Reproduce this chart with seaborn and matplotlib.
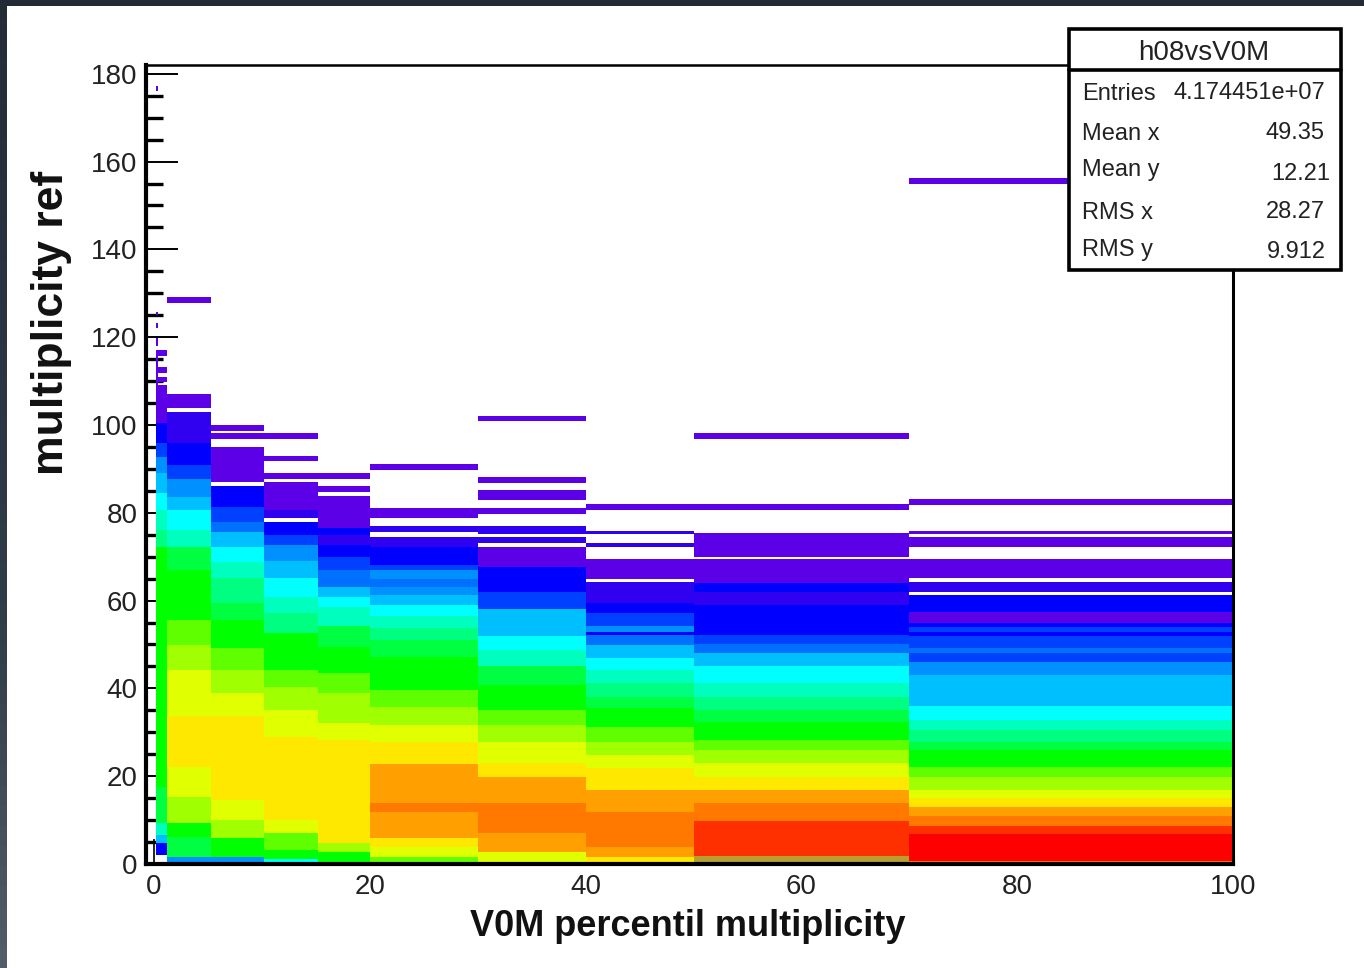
import pandas as pd
import matplotlib
matplotlib.use("Agg")
import matplotlib.pyplot as plt
from matplotlib.colors import ListedColormap
from matplotlib.lines import Line2D
from matplotlib.patches import Rectangle
from matplotlib.ticker import MultipleLocator
import seaborn as sns

# DATA

x_edges = [0.14, 0.33, 1.2, 5.25, 10.2, 15.2, 20, 30, 40, 50, 70, 100]

# each column: y edges of its bands and the colour level of each band (0 = empty)
col0_edges = [0, 2.1, 4.7, 6.6, 9.3, 17.6, 72.3, 76.1, 80.7, 84.5, 89, 92.8, 95.9, 100.4, 117.1, 117.9,
              119.8, 122.1, 123.3, 125.1, 125.8, 176, 177.3]
col0_levels = [0, 3, 7, 9, 11, 12, 10, 9, 8, 7, 6, 4, 3, 1, 0, 1, 0, 1, 0, 1, 0, 1]

col1_edges = [0, 2.1, 4.7, 6.6, 9.3, 17.6, 72.3, 76.1, 80.7, 84.5, 89, 92.8, 95.9, 100.4, 109.1, 109.9,
              111, 111.8, 113.2, 115.7, 117.1]
col1_levels = [0, 3, 7, 9, 11, 12, 10, 9, 8, 7, 6, 4, 3, 1, 0, 1, 0, 1, 0, 1]

col2_edges = [0, 1.7, 6.2, 9.3, 15.3, 22.2, 33.6, 44.2, 49.9, 55.6, 67, 72.3, 76.1, 80.7, 83.7, 87.7,
              90.9, 95.9, 102.9, 103.8, 107.1, 127.8, 129.1]
col2_levels = [6, 11, 12, 14, 15, 16, 15, 14, 13, 12, 11, 9, 8, 7, 6, 4, 3, 2, 0, 1, 0, 1]

col3_edges = [0, 1.7, 5.9, 10, 14.6, 33.6, 39, 44.2, 49.2, 55.6, 59.4, 65.1, 68.8, 72.1, 75.6, 77.8,
              81.4, 86.1, 86.9, 95.1, 96.8, 98.1, 98.7, 100]
col3_levels = [6, 12, 14, 15, 16, 15, 14, 13, 12, 11, 10, 9, 8, 7, 5, 4, 3, 0, 1, 0, 1, 0, 1]

col4_edges = [0, 1.1, 3.2, 7, 10, 29, 35.1, 40.4, 44.2, 52.6, 57.1, 60.9, 65.2, 69, 72.7, 75, 77.9,
              78.8, 80.7, 87, 87.7, 89, 91.7, 93, 96.8, 98.1]
col4_levels = [8, 12, 13, 15, 16, 15, 14, 13, 12, 10, 9, 8, 7, 6, 4, 3, 0, 2, 1, 0, 1, 0, 1, 0, 1]

col5_edges = [0, 2.8, 4.8, 28.3, 32.1, 39, 43.5, 49.5, 54.1, 58.6, 60.9, 63.2, 67, 70, 72.7, 75, 76.5,
              83.9, 84.7, 86.1, 87.7, 89]
col5_levels = [12, 14, 16, 15, 14, 13, 12, 11, 9, 8, 7, 5, 4, 3, 2, 3, 1, 0, 1, 0, 1]

col6_edges = [0, 1.7, 3.9, 5.9, 11.8, 13.8, 22.7, 27.9, 31.7, 35.8, 39.6, 47.2, 51, 53.8, 56.5, 59,
              61.3, 63, 64.9, 67, 68.1, 72.2, 74.4, 75.6, 77, 78.8, 81, 89.8, 91.1]
col6_levels = [13, 15, 16, 17, 18, 17, 16, 15, 14, 13, 12, 11, 10, 9, 8, 7, 6, 5, 6, 4, 3, 2, 0, 2, 0,
               1, 0, 1]

col7_edges = [0, 2.8, 7, 13.8, 19.9, 22.9, 27.9, 31.7, 35.1, 40.8, 45, 48.8, 52, 58, 62, 67.7, 72.2,
              73.1, 74.4, 75.2, 77, 79.7, 81, 82.8, 85.1, 86.7, 88.1, 100.8, 102.1]
col7_levels = [15, 17, 18, 17, 16, 15, 14, 13, 12, 11, 9, 8, 7, 4, 3, 1, 0, 2, 0, 2, 0, 1, 0, 1, 0, 1,
               0, 1]

col8_edges = [0, 1.7, 3.9, 11.9, 16.9, 21.8, 24.8, 27.9, 31.3, 35.5, 38.1, 41.2, 44.2, 46.9, 49.9,
              52.2, 52.9, 54.1, 57.1, 59.4, 64.2, 64.9, 69.4, 72.1, 73.2, 75.2, 75.9, 80.7, 82]
col8_levels = [16, 17, 18, 17, 16, 15, 14, 13, 12, 11, 10, 9, 8, 7, 5, 3, 6, 4, 3, 2, 0, 1, 0, 2, 0,
               2, 0, 1]

col9_edges = [0, 1.8, 9.9, 13.8, 16.9, 19.9, 22.9, 26, 28.3, 32.4, 35.1, 38.1, 41.2, 45, 48, 50.1,
              52.2, 56, 59, 62, 64, 69.4, 70, 75.4, 80.7, 82, 96.8, 98.2]
col9_levels = [21, 19, 18, 17, 16, 15, 14, 13, 12, 11, 10, 9, 8, 7, 5, 4, 3, 3, 2, 3, 1, 0, 1, 0, 1,
               0, 1]

col10_edges = [0, 0.6, 6.8, 8.7, 10.9, 12.9, 15, 16.9, 19.9, 22, 26, 27.9, 30.5, 32.8, 36, 43.1, 46.1,
               48, 49.1, 52, 52.8, 53.9, 54.8, 57.5, 61.2, 62, 64.3, 65.1, 69.4, 72.1, 74.4, 75.1,
               75.9, 81.7, 83.1, 154.9, 156.3]
col10_levels = [18, 20, 19, 18, 17, 16, 15, 14, 13, 12, 11, 10, 9, 8, 7, 6, 4, 5, 4, 3, 4, 3, 1, 3, 0,
                2, 0, 1, 0, 1, 0, 1, 0, 1, 0, 1]

# level 21 is the muted strip at the bottom of the 50-70 column
level_colors = ["#5c00e8", "#3000f0", "#0000ff", "#0040ff", "#0070ff", "#0090ff", "#00bfff", "#00ffff",
                "#00ffbf", "#00ff80", "#00ff40", "#00ff00", "#60ff00", "#a0ff00", "#e0ff00", "#ffe800",
                "#ffa000", "#ff7800", "#ff3000", "#ff0000", "#b8a030"]

stat_names = ["Entries", "Mean x", "Mean y", "RMS x", "RMS y"]
stat_values = ["4.174451e+07", "49.35", "12.21", "28.27", "9.912"]

columns = [(col0_edges, col0_levels), (col1_edges, col1_levels), (col2_edges, col2_levels),
           (col3_edges, col3_levels), (col4_edges, col4_levels), (col5_edges, col5_levels),
           (col6_edges, col6_levels), (col7_edges, col7_levels), (col8_edges, col8_levels),
           (col9_edges, col9_levels), (col10_edges, col10_levels)]

# common y binning is every edge used by any column
y_edges = sorted(set(e for edges, _ in columns for e in edges))

rows = []
for i, (edges, levels) in enumerate(columns):
    x_mid = (x_edges[i] + x_edges[i + 1]) / 2
    for j in range(len(y_edges) - 1):
        y_mid = (y_edges[j] + y_edges[j + 1]) / 2
        for k, level in enumerate(levels):
            if edges[k] <= y_mid < edges[k + 1] and level > 0:
                rows.append({"x": x_mid, "y": y_mid, "level": level})
df = pd.DataFrame(rows)

# FIGURE

W, H = 1364, 968
sns.set_theme(style="white")
plt.rcParams["font.family"] = ["Liberation Sans", "DejaVu Sans"]


def fx(px):
    return px / W


def fy(py):
    return 1 - py / H


fig = plt.figure(figsize=(W / 100, H / 100), dpi=100, facecolor="white")
ax = fig.add_axes([fx(146), fy(864), fx(1233) - fx(146), fy(65) - fy(864)])

sns.histplot(data=df, x="x", y="y", weights="level", bins=(x_edges, y_edges),
             cmap=ListedColormap(sns.color_palette(level_colors)), vmin=0.5, vmax=21.5,
             thresh=0, ax=ax)

ax.set_xlim(-0.75, 100)
ax.set_ylim(0, 182)
ax.xaxis.set_major_locator(MultipleLocator(20))
ax.xaxis.set_minor_locator(MultipleLocator(5))
ax.yaxis.set_major_locator(MultipleLocator(20))
ax.yaxis.set_minor_locator(MultipleLocator(5))

ax.tick_params(axis="x", which="major", direction="in", length=18, width=1.2, bottom=True,
               labelsize=20, pad=7, colors="#222222")
ax.tick_params(axis="x", which="minor", direction="in", length=9, width=2.2, bottom=True, color="black")
ax.tick_params(axis="y", which="major", direction="in", length=23, width=1.4, left=True,
               labelsize=20, pad=6, colors="#222222")
ax.tick_params(axis="y", which="minor", direction="in", length=12, width=2.4, left=True, color="black")
ax.tick_params(axis="both", which="major", color="black")

ax.spines["left"].set_linewidth(3)
ax.spines["bottom"].set_linewidth(3)
ax.spines["top"].set_linewidth(1.8)
ax.spines["right"].set_linewidth(2.2)
for s in ax.spines.values():
    s.set_color("black")
    s.set_visible(True)

ax.set_xlabel("V0M percentil multiplicity", fontsize=26, fontweight="bold", va="center", color="#111111")
ax.xaxis.set_label_coords((688 - 146) / 1087, (864 - 927) / 799)
ax.set_ylabel("multiplicity ref", fontsize=32, fontweight="bold", va="center", color="#111111")
ax.yaxis.set_label_coords((52 - 146) / 1087, (864 - 323) / 799)

# stats box
fig.add_artist(Rectangle((fx(1069), fy(270)), fx(1341) - fx(1069), fy(29) - fy(270), transform=fig.transFigure,
                         facecolor="white", edgecolor="black", linewidth=2.6, zorder=5))
fig.add_artist(Line2D([fx(1069), fx(1341)], [fy(70), fy(70)], color="black", linewidth=2.6, zorder=6))
fig.text(fx(1204), fy(53), "h08vsV0M", fontsize=20, ha="center", va="center", color="#222222", zorder=7)

name_y = [94, 134, 170, 213, 250]
value_y = [93, 133, 174, 212, 252]
value_x = [1325, 1325, 1330, 1325, 1326]
for name, value, ny, vy, vx in zip(stat_names, stat_values, name_y, value_y, value_x):
    fig.text(fx(1082), fy(ny), name, fontsize=17, ha="left", va="center", color="#222222", zorder=7)
    fig.text(fx(vx), fy(vy), value, fontsize=17, ha="right", va="center", color="#222222", zorder=7)

# dark screenshot edge, the left strip gets lighter towards the bottom
fig.add_artist(Rectangle((0, fy(6)), 1, fy(0) - fy(6), transform=fig.transFigure, facecolor="#232c36",
                         edgecolor="none", zorder=8))
strip = sns.blend_palette(["#232c36", "#283440", "#303e48", "#505c66"], 48)
for i, c in enumerate(strip):
    fig.add_artist(Rectangle((0, 1 - (i + 1) / 48), fx(7), 1 / 48 + 0.001, transform=fig.transFigure,
                             facecolor=c, edgecolor="none", zorder=8))

fig.savefig("out.png", dpi=100)
